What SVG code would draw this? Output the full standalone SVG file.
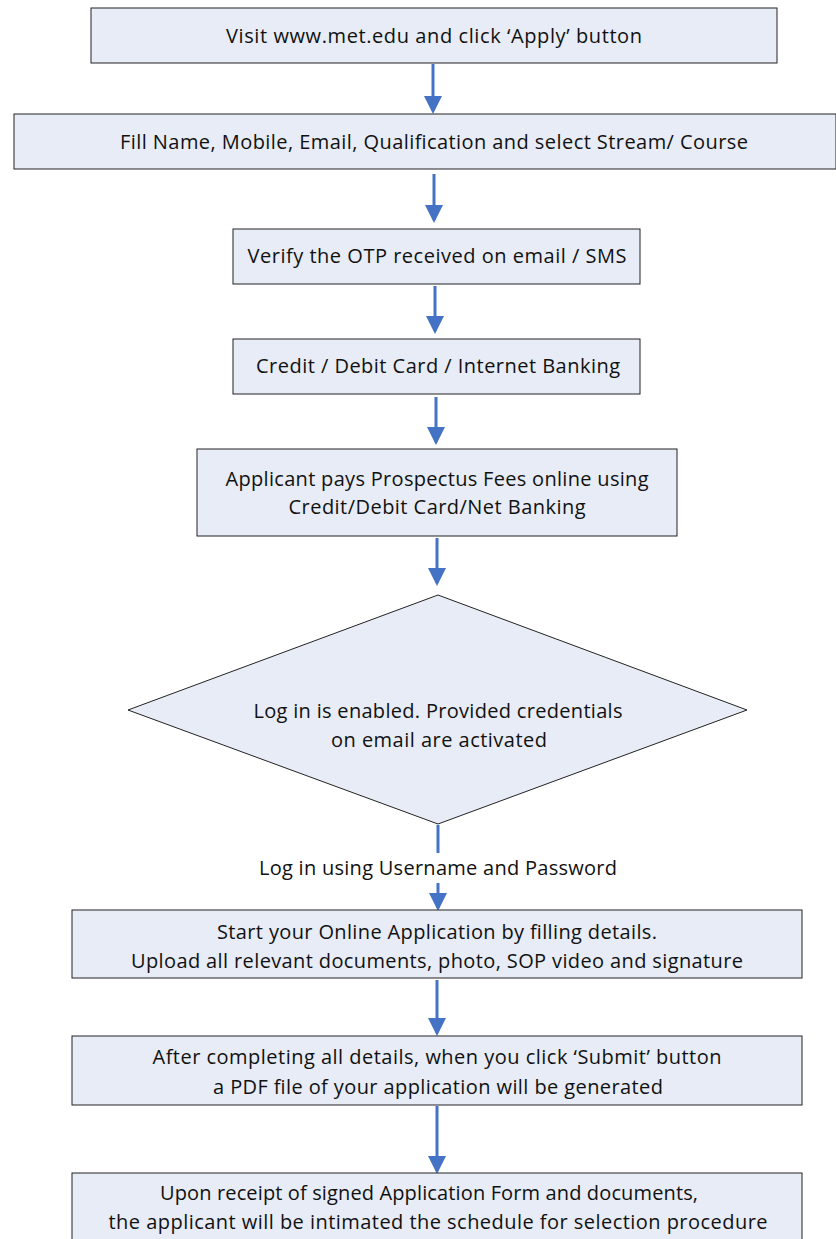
<svg xmlns="http://www.w3.org/2000/svg" width="836" height="1239" viewBox="0 0 836 1239">
<style>
.box{fill:#e7ecf6;stroke:#222;stroke-width:1}
.t{font-family:"Open Sans","Liberation Sans",sans-serif;font-size:20px;fill:#111;text-anchor:middle}
.c{stroke:#4472c4;stroke-width:3;fill:none}
</style>
<defs>
<marker id="ah" markerWidth="6" markerHeight="6" refX="5" refY="3" orient="auto" markerUnits="strokeWidth">
<path d="M0,0 L6,3 L0,6 Z" fill="#4472c4"/>
</marker>
</defs>
<rect width="836" height="1239" fill="#fff"/>
<g id="connectors">
<line class="c" x1="433" y1="64" x2="433" y2="111" marker-end="url(#ah)"/>
<line class="c" x1="434" y1="174" x2="434" y2="220" marker-end="url(#ah)"/>
<line class="c" x1="435" y1="286" x2="435" y2="331" marker-end="url(#ah)"/>
<line class="c" x1="436" y1="397" x2="436" y2="442" marker-end="url(#ah)"/>
<line class="c" x1="437" y1="538" x2="437" y2="583" marker-end="url(#ah)"/>
<line class="c" x1="438" y1="825" x2="438" y2="853"/>
<line class="c" x1="438" y1="883" x2="438" y2="908" marker-end="url(#ah)"/>
<line class="c" x1="437" y1="980" x2="437" y2="1033" marker-end="url(#ah)"/>
<line class="c" x1="437" y1="1106" x2="437" y2="1171" marker-end="url(#ah)"/>
<text class="t" x="438" y="875" textLength="358">Log in using Username and Password</text>
</g>
<g id="n1"><rect class="box" x="91" y="8" width="686" height="55"/>
<text class="t" x="434" y="43" textLength="416">Visit www.met.edu and click ‘Apply’ button</text></g>
<g id="n2"><rect class="box" x="14" y="114" width="822" height="55"/>
<text class="t" x="434" y="149" textLength="628">Fill Name, Mobile, Email, Qualification and select Stream/ Course</text></g>
<g id="n3"><rect class="box" x="233" y="229" width="407" height="55"/>
<text class="t" x="437" y="263" textLength="379">Verify the OTP received on email / SMS</text></g>
<g id="n4"><rect class="box" x="233" y="339" width="407" height="55"/>
<text class="t" x="438" y="373" textLength="364">Credit / Debit Card / Internet Banking</text></g>
<g id="n5"><rect class="box" x="197" y="449" width="480" height="87"/>
<text class="t" x="437" y="486" textLength="423">Applicant pays Prospectus Fees online using</text>
<text class="t" x="437" y="514" textLength="297">Credit/Debit Card/Net Banking</text></g>
<g id="n6"><polygon class="box" points="438,595 747,710 438,824 128,710"/>
<text class="t" x="438" y="718" textLength="369">Log in is enabled. Provided credentials</text>
<text class="t" x="439" y="747" textLength="216">on email are activated</text></g>
<g id="n7"><rect class="box" x="72" y="910" width="730" height="68"/>
<text class="t" x="437" y="939" textLength="440">Start your Online Application by filling details.</text>
<text class="t" x="437" y="968" textLength="612">Upload all relevant documents, photo, SOP video and signature</text></g>
<g id="n8"><rect class="box" x="72" y="1036" width="730" height="69"/>
<text class="t" x="437" y="1064" textLength="569">After completing all details, when you click ‘Submit’ button</text>
<text class="t" x="438" y="1094" textLength="450">a PDF file of your application will be generated</text></g>
<g id="n9"><rect class="box" x="72" y="1173" width="730" height="80"/>
<text class="t" x="429" y="1200" textLength="538">Upon receipt of signed Application Form and documents,</text>
<text class="t" x="438" y="1229" textLength="659">the applicant will be intimated the schedule for selection procedure</text></g>
</svg>
